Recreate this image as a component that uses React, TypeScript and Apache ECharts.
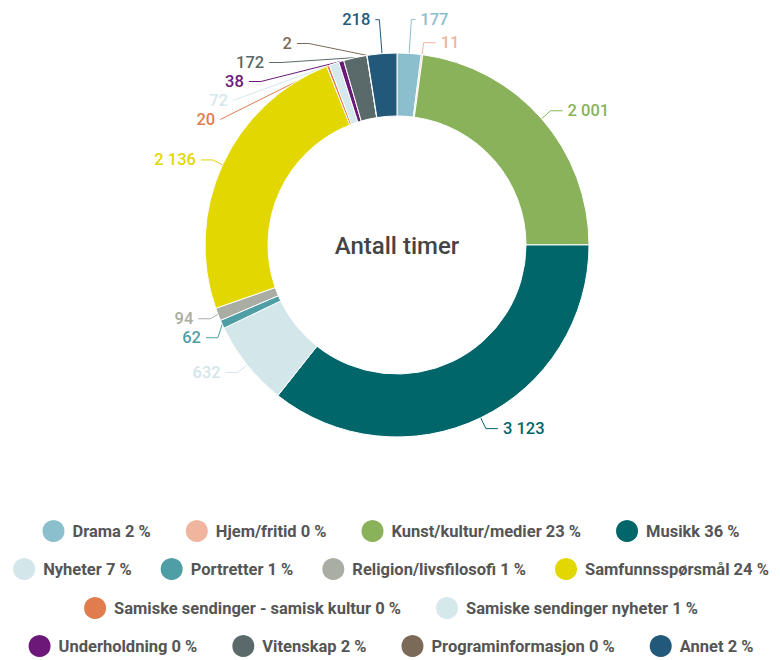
import React, { useEffect, useRef } from "react";
import * as echarts from "echarts";

const categories = [
  "Drama",
  "Hjem/fritid",
  "Kunst/kultur/medier",
  "Musikk",
  "Nyheter",
  "Portretter",
  "Religion/livsfilosofi",
  "Samfunnsspørsmål",
  "Samiske sendinger - samisk kultur",
  "Samiske sendinger nyheter",
  "Underholdning",
  "Vitenskap",
  "Programinformasjon",
  "Annet",
];
const hours = [177, 11, 2001, 3123, 632, 62, 94, 2136, 20, 72, 38, 172, 2, 218];
const colors = [
  "#8bbfcd",
  "#efb59f",
  "#89b25a",
  "#00666a",
  "#d3e6ea",
  "#4f9ea6",
  "#a9ada4",
  "#e2d700",
  "#e17c4e",
  "#d5e8ec",
  "#6b1878",
  "#5a6a6a",
  "#7b6a58",
  "#22597a",
];
const legendRows = [
  [0, 1, 2, 3],
  [4, 5, 6, 7],
  [8, 9],
  [10, 11, 12, 13],
];
const legendTops = [518, 556, 595, 633];
const legendGaps = [33, 27, 33, 33];
const centerTitle = "Antall timer";

const fmt = (v: number) => String(v).replace(/\B(?=(\d{3})+(?!\d))/g, " ");

export default function App() {
  const ref = useRef<HTMLDivElement>(null);
  useEffect(() => {
    document.body.style.margin = "0";
    const chart = echarts.init(ref.current!, null, { renderer: "svg" });
    const total = hours.reduce((a, b) => a + b, 0);
    const pct: Record<string, number> = {};
    categories.forEach((c, i) => (pct[c] = Math.round((hours[i] / total) * 100)));
    const tall = new Set(["Drama", "Annet"]);
    const data = categories.map((name, i) => ({
      name,
      value: hours[i],
      itemStyle: { color: colors[i] },
      label: { color: colors[i] },
      labelLine: tall.has(name)
        ? { length: 34, length2: 4, lineStyle: { color: colors[i] } }
        : { lineStyle: { color: colors[i] } },
    }));
    chart.setOption({
      animation: false,
      textStyle: { fontFamily: "Roboto" },
      legend: legendRows.map((row, r) => ({
        data: row.map((i) => ({ name: categories[i], icon: "circle" })),
        left: "center",
        top: legendTops[r],
        padding: 0,
        itemWidth: 24,
        itemHeight: 24,
        itemGap: legendGaps[r],
        formatter: (name: string) => `${name} ${pct[name]} %`,
        textStyle: { fontFamily: "Roboto", fontSize: 16.5, fontWeight: "bold", color: "#555", padding: [0, 0, 0, 2] },
      })),
      graphic: [
        {
          type: "text",
          x: 397,
          y: 246,
          style: {
            text: centerTitle,
            fontFamily: "Roboto",
            fontSize: 24,
            fontWeight: 500,
            fill: "#444",
            textAlign: "center",
            textVerticalAlign: "middle",
          },
        },
      ],
      series: [
        {
          type: "pie",
          center: [397, 245],
          radius: [129, 192],
          startAngle: 90,
          clockwise: true,
          avoidLabelOverlap: true,
          itemStyle: { borderColor: "#fff", borderWidth: 1 },
          label: {
            show: true,
            position: "outside",
            formatter: (p: any) => fmt(p.value),
            fontFamily: "Roboto",
            fontSize: 16.5,
            fontWeight: 500,
          },
          labelLine: { show: true, length: 12, length2: 12, lineStyle: { width: 1 } },
          data,
        },
      ],
    });
    return () => chart.dispose();
  }, []);
  return <div ref={ref} style={{ width: 780, height: 660 }} />;
}
